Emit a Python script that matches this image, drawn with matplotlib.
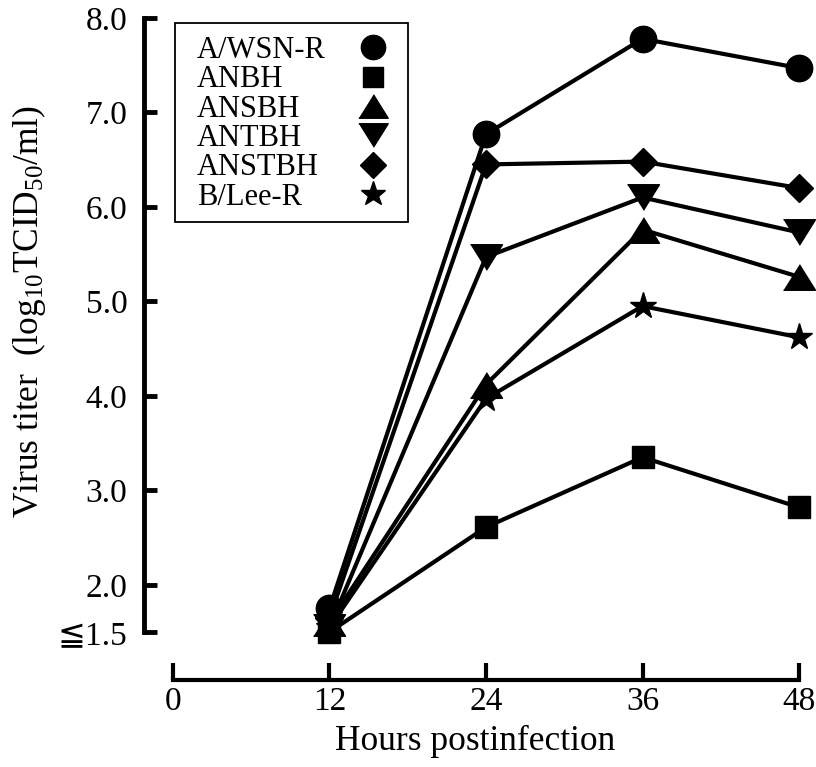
import matplotlib
matplotlib.use('Agg')
import matplotlib.pyplot as plt
from matplotlib.lines import Line2D
from matplotlib.patches import Rectangle

plt.rcParams['font.family'] = ['Liberation Serif', 'DejaVu Serif', 'DejaVu Sans']
plt.rcParams['mathtext.fontset'] = 'custom'
plt.rcParams['mathtext.rm'] = 'Liberation Serif'
plt.rcParams['mathtext.it'] = 'Liberation Serif:italic'

# data
hours = [12, 24, 36, 48]
strains = ['A/WSN-R', 'ANBH', 'ANSBH', 'ANTBH', 'ANSTBH', 'B/Lee-R']
a_wsn_r = [1.75, 6.77, 7.78, 7.47]
anbh = [1.50, 2.61, 3.35, 2.82]
ansbh = [1.60, 4.12, 5.76, 5.26]
antbh = [1.55, 5.47, 6.10, 5.73]
anstbh = [1.65, 6.45, 6.48, 6.20]
b_lee_r = [1.55, 3.97, 4.95, 4.62]
titers = [a_wsn_r, anbh, ansbh, antbh, anstbh, b_lee_r]

x_ticks = [0, 12, 24, 36, 48]
y_ticks = [1.5, 2.0, 3.0, 4.0, 5.0, 6.0, 7.0, 8.0]
y_ticklabels = ['\u22661.5', '2.0', '3.0', '4.0', '5.0', '6.0', '7.0', '8.0']

# triangles in the original are a bit wider than tall
tri_up = [(-1, -0.8), (1, -0.8), (0, 0.8)]
tri_down = [(-1, 0.8), (1, 0.8), (0, -0.8)]
markers = ['o', 's', tri_up, tri_down, 'D', '*']
sizes = [19, 16, 23, 23, 14, 20]

fig = plt.figure(figsize=(8.16, 7.67), dpi=100)
ax = fig.add_axes([144 / 816, 87 / 767, 672 / 816, 662 / 767])

lines = []
for vals, m, ms in zip(titers, markers, sizes):
    ln, = ax.plot(hours, vals, color='black', lw=3, marker=m, ms=ms,
                  clip_on=False)
    lines.append(ln)

ax.set_xlim(-2.22, 49.3)
ax.set_ylim(0.992, 8.0)

for side in ['top', 'right']:
    ax.spines[side].set_visible(False)
ax.spines['left'].set_bounds(1.5, 8.0)
ax.spines['bottom'].set_bounds(0, 48)
ax.spines['left'].set_linewidth(3.5)
ax.spines['bottom'].set_linewidth(3)

ax.set_xticks(x_ticks)
ax.set_yticks(y_ticks)
ax.set_yticklabels(y_ticklabels)
ax.tick_params(axis='x', direction='in', length=12, width=3, pad=5,
               labelsize=24)
ax.tick_params(axis='y', direction='in', length=9, width=3.5, pad=12,
               labelsize=24)

ax.set_xlabel('Hours postinfection', fontsize=25.5)
ax.xaxis.set_label_coords(0.4925, -0.068)
ax.xaxis.label.set_va('top')
ax.set_ylabel('Virus titer  (log$_{\\mathrm{10}}$TCID$_{\\mathrm{50}}$/ml)',
              fontsize=25.5)
ax.yaxis.set_label_coords(-0.143, 0.556)

# legend: names left-aligned, symbols in a column to the right
leg_kw = dict(bbox_transform=fig.transFigure, frameon=False, borderpad=0,
              borderaxespad=0, handletextpad=0, labelspacing=0.01,
              fontsize=22)
blank = [Line2D([], [], linestyle='none') for _ in strains]
leg_txt = ax.legend(blank, strains, loc='upper left',
                    bbox_to_anchor=(197 / 816, 1 - 36 / 767),
                    handlelength=0, **leg_kw)
ax.add_artist(leg_txt)
mk_handles = [Line2D([], [], linestyle='none', color='black', marker=m,
                     ms=ms * 0.92)
              for m, ms in zip(markers, sizes)]
leg_mk = ax.legend(mk_handles, [''] * len(strains), loc='upper center',
                   bbox_to_anchor=(373 / 816, 1 - 36 / 767),
                   handlelength=1.0, **leg_kw)

fig.canvas.draw()
bt = leg_txt.get_window_extent()
bm = leg_mk.get_window_extent()
x0, x1 = bt.x0 - 22, bm.x1 + 20
y0, y1 = bt.y0 - 10, bt.y1 + 13
inv = fig.transFigure.inverted()
(fx0, fy0), (fx1, fy1) = inv.transform([(x0, y0), (x1, y1)])
fig.patches.append(Rectangle((fx0, fy0), fx1 - fx0, fy1 - fy0,
                             transform=fig.transFigure, fill=False,
                             edgecolor='black', lw=1.3))

fig.savefig('out.png', dpi=100)
